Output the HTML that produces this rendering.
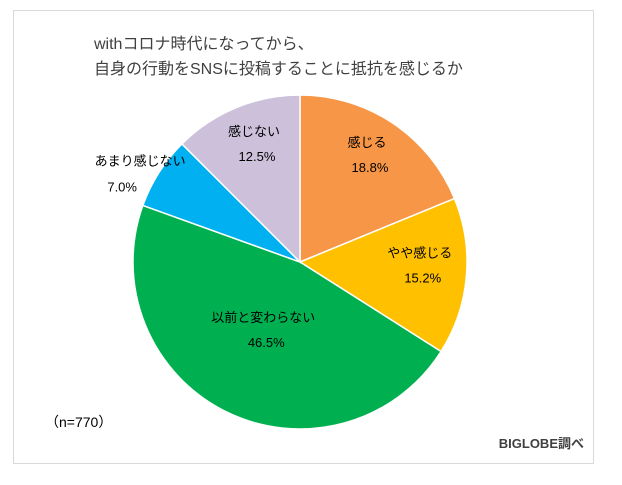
<!DOCTYPE html>
<html><head><meta charset="utf-8"><style>
body{margin:0;width:622px;height:480px;background:#fff;overflow:hidden;font-family:"Liberation Sans","Noto Sans CJK JP",sans-serif;}
</style></head><body>
<svg width="622" height="480">
<rect x="13.5" y="10.5" width="580" height="453" fill="#fff" stroke="#d9d9d9"/>
<text x="94" y="49" font-size="16" fill="#404040">withコロナ時代になってから、</text>
<text x="94" y="74" font-size="16" fill="#404040">自身の行動をSNSに投稿することに抵抗を感じるか</text>
<g id="slices"></g>
<g id="labels" font-size="13" fill="#000" text-anchor="middle"></g>
<text x="45" y="427" font-size="14" fill="#000">（n=770）</text>
<text x="584" y="448" font-size="13" font-weight="bold" fill="#404040" text-anchor="end">BIGLOBE調べ</text>
</svg>
<script>
const categories=["感じる","やや感じる","以前と変わらない","あまり感じない","感じない"];
const values=[18.8,15.2,46.5,7.0,12.5];
const colors=["#F79646","#FFC000","#00B050","#00B0F0","#CCC0DA"];
const cx=300,cy=262,r=167;
const ns="http://www.w3.org/2000/svg";
const total=values.reduce((a,b)=>a+b,0);
const gS=document.getElementById('slices'),gL=document.getElementById('labels');
let a0=0;
values.forEach((v,i)=>{
  const a1=a0+v/total*2*Math.PI;
  const p=(a)=>[cx+r*Math.sin(a),cy-r*Math.cos(a)];
  const [x0,y0]=p(a0),[x1,y1]=p(a1);
  const path=document.createElementNS(ns,'path');
  path.setAttribute('d',`M${cx},${cy}L${x0},${y0}A${r},${r} 0 ${a1-a0>Math.PI?1:0} 1 ${x1},${y1}Z`);
  path.setAttribute('fill',colors[i]);path.setAttribute('stroke','#fff');path.setAttribute('stroke-width','1.5');
  
  
  gS.appendChild(path);
  const am=(a0+a1)/2;
  const small=v<10, big=v>40;
  const lr=small?r*1.02:(big?r*0.5:r*0.72);
  let lx=cx+lr*Math.sin(am), ly=cy-lr*Math.cos(am);
  let tx=lx,ty=ly-15,px=lx+3,py=ly+10;
  if(small){tx=lx-16;ty=ly-5;px=lx-34;py=ly+21;}
  const t=document.createElementNS(ns,'text');
  t.setAttribute('x',tx);t.setAttribute('y',ty);t.textContent=categories[i];
  
  
  gL.appendChild(t);
  const t2=document.createElementNS(ns,'text');
  t2.setAttribute('x',px);t2.setAttribute('y',py);t2.textContent=v.toFixed(1)+'%';
  
  
  gL.appendChild(t2);
  a0=a1;
});
</script>
</body></html>
